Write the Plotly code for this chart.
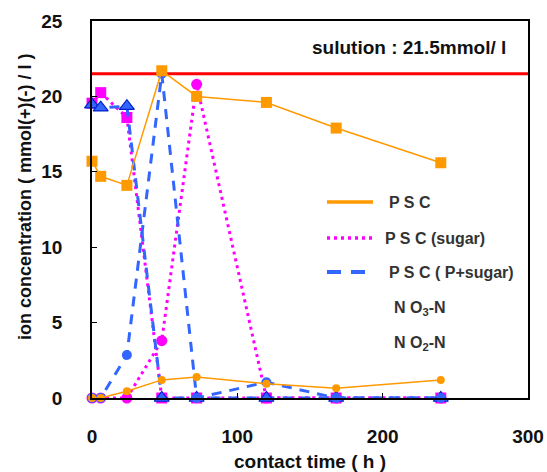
import plotly.graph_objects as go

# contact time (h)
time_h = [0, 6, 24, 48, 72, 120, 168, 240]

# PSC
psc_no3 = [15.7, 14.7, 14.1, 21.7, 20.0, 19.6, 17.9, 15.6]
psc_no2 = [0.0, 0.0, 0.45, 1.2, 1.4, 0.95, 0.65, 1.2]
# PSC (sugar)
sug_no3 = [19.55, 20.25, 18.6, 0.0, 0.0, 0.0, 0.0, 0.0]
sug_no2 = [0.0, 0.0, 0.0, 3.8, 20.8, 0.0, 0.0, 0.0]
# PSC (P+sugar)
ps_no3 = [19.45, 19.25, 19.35, 0.0, 0.0, 0.0, 0.0, 0.0]
ps_no2 = [0.0, 0.0, 2.85, 21.5, 0.0, 1.05, 0.0, 0.0]

solution_level = 21.5

x_ticks = [0, 100, 200, 300]
y_ticks = [0, 5, 10, 15, 20, 25]

ORANGE = "#FF9900"
MAGENTA = "#FF00FF"
BLUE = "#3366FF"
FONT = "Liberation Sans"

fig = go.Figure()

# solution line
fig.add_trace(go.Scatter(x=[0, 300], y=[solution_level, solution_level], mode="lines",
                         line=dict(color="#FF0000", width=3), showlegend=False, hoverinfo="skip"))

# PSC (sugar)
fig.add_trace(go.Scatter(x=time_h, y=sug_no3, mode="lines+markers",
                         line=dict(color=MAGENTA, width=3, dash="3px,4px"),
                         marker=dict(symbol="square", size=11, color=MAGENTA), showlegend=False,
                         cliponaxis=False))
fig.add_trace(go.Scatter(x=time_h, y=sug_no2, mode="lines+markers",
                         line=dict(color=MAGENTA, width=3, dash="3px,4px"),
                         marker=dict(symbol="circle", size=11, color=MAGENTA), showlegend=False,
                         cliponaxis=False))
# PSC (P+sugar)
fig.add_trace(go.Scatter(x=time_h, y=ps_no3, mode="lines+markers",
                         line=dict(color=BLUE, width=3, dash="10px,8px"),
                         marker=dict(symbol="triangle-up", size=13, color=BLUE,
                                     line=dict(color="#0022CC", width=1.2)), showlegend=False,
                         cliponaxis=False))
fig.add_trace(go.Scatter(x=time_h, y=ps_no2, mode="lines+markers",
                         line=dict(color=BLUE, width=3, dash="10px,8px"),
                         marker=dict(symbol="circle", size=10, color=BLUE), showlegend=False,
                         cliponaxis=False))
# PSC
fig.add_trace(go.Scatter(x=time_h, y=psc_no3, mode="lines+markers",
                         line=dict(color=ORANGE, width=1.5),
                         marker=dict(symbol="square", size=11, color=ORANGE), showlegend=False,
                         cliponaxis=False))
fig.add_trace(go.Scatter(x=time_h, y=psc_no2, mode="lines+markers",
                         line=dict(color=ORANGE, width=1.5),
                         marker=dict(symbol="circle", size=8, color=ORANGE), showlegend=False,
                         cliponaxis=False))

# legend drawn manually (paper coords: plot x 92..528, y 21..398)
W, H = 547, 472
L, R, T, B = 92, 19, 21, 74
pw, ph = W - L - R, H - T - B


def px(x):
    return (x - L) / pw


def py(y):
    return (H - B - y) / ph


leg_items = [
    (202, "P S C", dict(color=ORANGE, width=3.5), 387),
    (238, "P S C (sugar)", dict(color=MAGENTA, width=3.5, dash="3px,4px"), 383),
    (272, "P S C ( P+sugar)", dict(color=BLUE, width=4, dash="14px,10px"), 387),
]
for yy, txt, ln, tx in leg_items:
    fig.add_shape(type="line", xref="paper", yref="paper", x0=px(327), x1=px(373),
                  y0=py(yy), y1=py(yy), line=ln)
    fig.add_annotation(xref="paper", yref="paper", x=px(tx), y=py(yy), text=f"<b>{txt}</b>",
                       showarrow=False, xanchor="left", yanchor="middle",
                       font=dict(family=FONT, size=16, color="#333333"))
for yy, txt in [(308, "N O<sub>3</sub>-N"), (343, "N O<sub>2</sub>-N")]:
    fig.add_annotation(xref="paper", yref="paper", x=px(392), y=py(yy), text=f"<b>{txt}</b>",
                       showarrow=False, xanchor="left", yanchor="middle",
                       font=dict(family=FONT, size=16, color="#333333"))

fig.add_annotation(xref="paper", yref="paper", x=px(508), y=py(47),
                   text="<b>sulution : 21.5mmol/ l</b>", showarrow=False,
                   xanchor="right", yanchor="middle",
                   font=dict(family=FONT, size=19, color="#111111"))

# axis titles
fig.add_annotation(xref="paper", yref="paper", x=px(25), y=py(197),
                   text="<b>ion concentration ( mmol(+)(-) / l )</b>", showarrow=False,
                   textangle=-90, xanchor="center", yanchor="middle",
                   font=dict(family=FONT, size=18, color="#111111"))
fig.add_annotation(xref="paper", yref="paper", x=px(310), y=py(461),
                   text="<b>contact time ( h )</b>", showarrow=False,
                   xanchor="center", yanchor="middle",
                   font=dict(family=FONT, size=19, color="#111111"))

fig.update_layout(
    width=W, height=H,
    margin=dict(l=L, r=R, t=T, b=B),
    paper_bgcolor="white", plot_bgcolor="white",
    font=dict(family=FONT, size=19, color="#111111"),
    showlegend=False,
)
fig.update_xaxes(range=[0, 300], tickvals=x_ticks, ticktext=[f"<b>{v}</b>" for v in x_ticks],
                 ticks="inside", ticklen=5, tickcolor="black", ticklabelstandoff=20,
                 tickfont=dict(family=FONT, size=19, color="#111111"),
                 showline=True, linecolor="black", linewidth=1.5, mirror=True, showgrid=False,
                 zeroline=False, automargin=False)
fig.update_yaxes(range=[0, 25], tickvals=y_ticks, ticktext=[f"<b>{v}</b>" for v in y_ticks],
                 ticks="inside", ticklen=5, tickcolor="black", ticklabelstandoff=24,
                 tickfont=dict(family=FONT, size=19, color="#111111"),
                 showline=True, linecolor="black", linewidth=1.5, mirror=True, showgrid=False,
                 zeroline=False, automargin=False)

fig.write_html("out.html", config={"displayModeBar": False},
               post_script="document.body.style.margin='0';")
